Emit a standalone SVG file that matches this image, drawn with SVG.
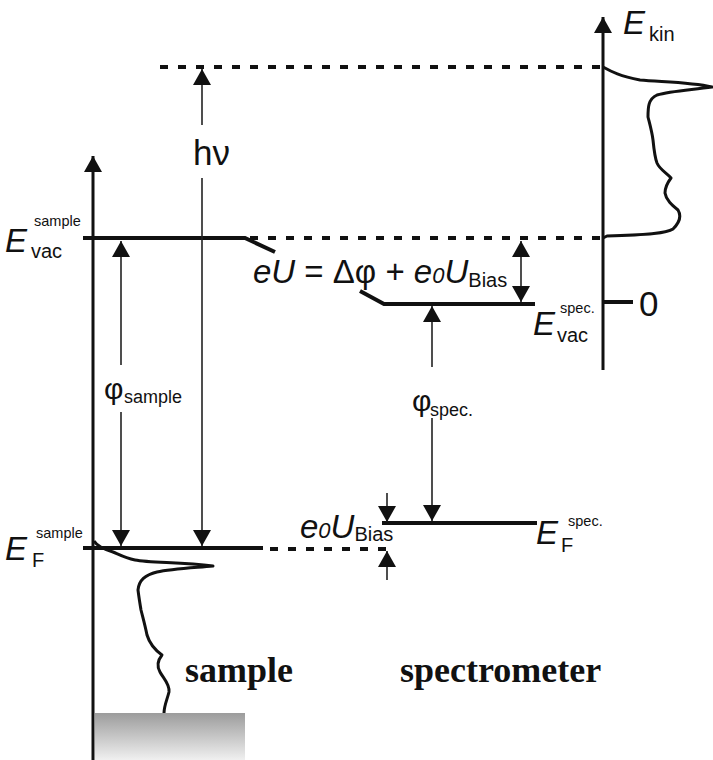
<svg xmlns="http://www.w3.org/2000/svg" width="713" height="760" viewBox="0 0 713 760">
<style>
.axis{stroke:#111;stroke-width:3;fill:none}
.level{stroke:#111;stroke-width:4;fill:none}
.dash{stroke:#111;stroke-width:4;fill:none;stroke-dasharray:8 10}
.arr{stroke:#222;stroke-width:1.6;fill:none}
.curve{stroke:#111;stroke-width:3;fill:none;stroke-linejoin:round}
.sans{font-family:"Liberation Sans",Arial,sans-serif;fill:#111}
.it{font-style:italic}
.big{font-size:33px}
.sub{font-size:20px}
.sup{font-size:14.5px}
.bold{font-family:"Liberation Serif","Times New Roman",serif;font-weight:bold;font-size:36px;fill:#111}
</style>
<defs>
<marker id="ah" markerUnits="userSpaceOnUse" viewBox="0 0 16 18" markerWidth="16" markerHeight="18" refX="16" refY="9" orient="auto">
<path d="M0,0 L16,9 L0,18 Z" fill="#111"/>
</marker>
<linearGradient id="g" x1="0" y1="0" x2="0" y2="1">
<stop offset="0" stop-color="#9c9c9c"/>
<stop offset="1" stop-color="#f0f0f0"/>
</linearGradient>
</defs>

<g id="sample-block">
<rect x="95" y="713" width="150" height="47" fill="url(#g)"/>
</g>

<g id="axes">
<line class="axis" x1="93" y1="760" x2="93" y2="156" marker-end="url(#ah)"/>
<line class="axis" x1="603" y1="370" x2="603" y2="17" marker-end="url(#ah)"/>
<line class="level" x1="603" y1="302" x2="633" y2="302"/>
</g>

<g id="levels">
<path class="level" d="M83,238 L245,238 L275,252"/>
<path class="level" d="M360,291 L384,304 L535,304"/>
<line class="level" x1="83" y1="548" x2="263" y2="548"/>
<line class="level" x1="382" y1="523" x2="537" y2="523"/>
<line class="dash" x1="160" y1="67" x2="600" y2="67"/>
<line class="dash" x1="250" y1="238" x2="600" y2="238"/>
<line class="dash" x1="270" y1="549" x2="392" y2="549"/>
</g>

<g id="spectra">
<path class="curve" d="M603,67 C612,72 620,76 640,80 C660,82 690,82 712,87 C690,90 670,91 657,95 C648,99 648,108 648,117 C650,125 652,132 653,140 C654,150 655,158 657,163 C660,170 667,173 671,178 C668,182 665,186 665,193 C666,200 672,205 678,210 C681,215 680,222 673,229 C667,233 650,235 607,236 L603,238"/>
<path class="curve" d="M94,541 C97,546 103,549 113,552 C120,555 125,558 135,560 C150,563 180,562 213,566 C190,568 170,569 157,572 C145,575 139,580 138,590 C139,598 140,604 141,610 C143,618 145,625 147,635 C150,645 155,650 162,655 C158,660 156,665 160,672 C163,678 170,684 169,692 C167,700 164,706 164,713"/>
</g>

<g id="connectors">
<line class="arr" x1="202" y1="125" x2="202" y2="69" marker-end="url(#ah)"/>
<line class="arr" x1="202" y1="178" x2="202" y2="546" marker-end="url(#ah)"/>
<line class="arr" x1="121" y1="365" x2="121" y2="241" marker-end="url(#ah)"/>
<line class="arr" x1="121" y1="412" x2="121" y2="546" marker-end="url(#ah)"/>
<line class="arr" x1="521" y1="270" x2="521" y2="241" marker-end="url(#ah)"/>
<line class="arr" x1="521" y1="270" x2="521" y2="302" marker-end="url(#ah)"/>
<line class="arr" x1="432" y1="367" x2="432" y2="306" marker-end="url(#ah)"/>
<line class="arr" x1="432" y1="418" x2="432" y2="521" marker-end="url(#ah)"/>
<line class="arr" x1="387" y1="493" x2="387" y2="522" marker-end="url(#ah)"/>
<line class="arr" x1="387" y1="580" x2="387" y2="551" marker-end="url(#ah)"/>
</g>

<g id="labels">
<text class="sans it big" x="5" y="252">E</text>
<text class="sans sub" x="31" y="258">vac</text>
<text class="sans sup" x="34" y="226">sample</text>

<text class="sans it big" x="5" y="560">E</text>
<text class="sans sub" x="32" y="567">F</text>
<text class="sans sup" x="36" y="538">sample</text>

<text class="sans it big" x="533" y="335">E</text>
<text class="sans sub" x="557" y="342">vac</text>
<text class="sans sup" x="560" y="313">spec.</text>

<text class="sans it big" x="536" y="544">E</text>
<text class="sans sub" x="561" y="552">F</text>
<text class="sans sup" x="568" y="526">spec.</text>

<text class="sans it big" x="623" y="34">E</text>
<text class="sans sub" x="649" y="41">kin</text>

<text class="sans" x="639" y="316" font-size="35">0</text>

<text class="sans" x="193" y="165" font-size="35">hν</text>

<text class="sans" x="104" y="399" font-size="30">φ</text>
<text class="sans" x="124" y="403" font-size="18">sample</text>

<text class="sans" x="412" y="411" font-size="30">φ</text>
<text class="sans" x="430" y="416" font-size="18">spec.</text>

<text class="sans big" x="253" y="283"><tspan class="it">eU</tspan> = Δφ + <tspan class="it">e</tspan><tspan class="it" font-size="22">0</tspan><tspan class="it">U</tspan><tspan font-size="20" dy="4">Bias</tspan></text>

<text class="sans big" x="300" y="538"><tspan class="it">e</tspan><tspan class="it" font-size="22">0</tspan><tspan class="it">U</tspan><tspan font-size="20" dy="3">Bias</tspan></text>

<text class="bold" x="185" y="682">sample</text>
<text class="bold" x="400" y="682">spectrometer</text>
</g>
</svg>
